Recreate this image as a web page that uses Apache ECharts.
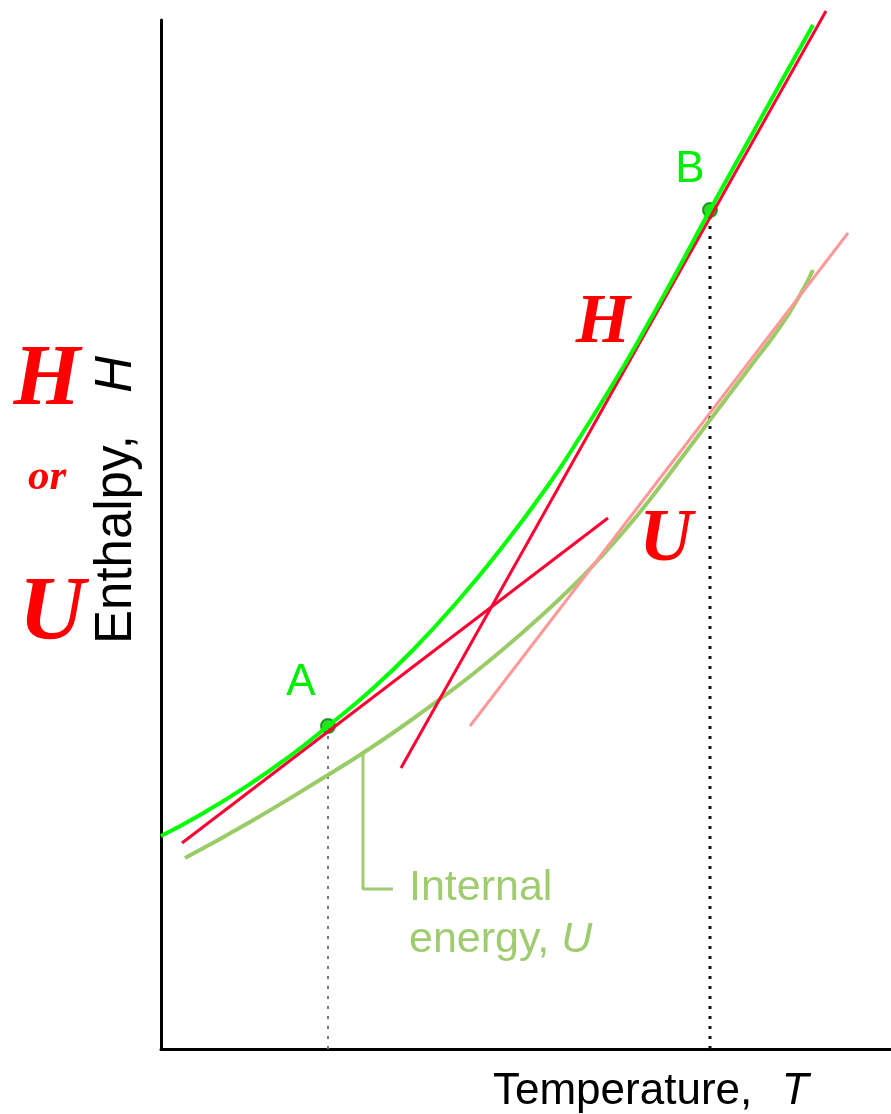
<!DOCTYPE html>
<html>
<head>
<meta charset="utf-8">
<script src="https://cdn.jsdelivr.net/npm/echarts@6/dist/echarts.min.js"></script>
<style>
  html, body { margin: 0; padding: 0; background: #fff; }
  #chart { width: 891px; height: 1114px; }
</style>
</head>
<body>
<div id="chart"></div>
<script>
// arbitrary units: temperature 0..730, enthalpy 0..1029
var enthalpyCurve = [
  [0, 213], [39, 234], [89, 265], [129, 293], [167, 323], [209, 358],
  [252, 399], [296, 447], [339, 499], [386, 562], [419, 612], [452, 665],
  [479, 711], [514, 774], [549, 839], [589, 911], [629, 983], [652, 1024]
];
var energyCurve = [
  [24, 191], [89, 227], [167, 274], [202, 296], [239, 321], [279, 350],
  [312, 375], [346, 403], [379, 432], [412, 463], [439, 491], [464, 519],
  [487, 547], [519, 589], [552, 633], [589, 682], [619, 722], [639, 754], [652, 779]
];
var tangentA = [[21, 206], [447, 531]];
var tangentB = [[240, 281], [665, 1038]];
var tangentU = [[309, 323], [687, 816]];
var leader = [[202, 296], [202, 160], [232, 160]];
var pointA = [167, 323];
var pointB = [549, 839];
var dropA = [[167, 0], [167, 323]];
var dropB = [[549, 0], [549, 839]];

var chart = echarts.init(document.getElementById('chart'));

function lineSeries(data, color, width, extra) {
  var s = {
    type: 'line',
    data: data,
    showSymbol: false,
    clip: false,
    silent: true,
    lineStyle: { color: color, width: width },
    animation: false
  };
  for (var k in extra) s[k] = extra[k];
  return s;
}

var sans = 'Liberation Sans';
var serif = 'Liberation Serif';

chart.setOption({
  animation: false,
  grid: { left: 161, right: 0, top: 20, bottom: 65 },
  xAxis: {
    type: 'value', min: 0, max: 730,
    axisLine: { show: true, lineStyle: { color: '#000', width: 3 } },
    axisTick: { show: false }, axisLabel: { show: false }, splitLine: { show: false }
  },
  yAxis: {
    type: 'value', min: 0, max: 1029,
    axisLine: { show: true, lineStyle: { color: '#000', width: 3 } },
    axisTick: { show: false }, axisLabel: { show: false }, splitLine: { show: false }
  },
  series: [
    lineSeries(dropA, '#777', 2, { lineStyle: { color: '#777', width: 2, type: [3, 7] } }),
    lineSeries(dropB, '#111', 3, { lineStyle: { color: '#111', width: 3, type: [3, 7] } }),
    lineSeries(leader, '#a0cc70', 3),
    lineSeries(energyCurve, '#99cc66', 4, { smooth: true }),
    lineSeries(tangentU, '#ff9999', 3),
    lineSeries(tangentA, '#ff0033', 3),
    lineSeries(tangentB, '#ff0033', 3),
    lineSeries(enthalpyCurve, '#00ff00', 4, { smooth: true }),
    {
      type: 'scatter',
      data: [pointA, pointB],
      symbolSize: 14,
      itemStyle: { color: '#00cc00', borderColor: '#008800', borderWidth: 2 },
      silent: true
    }
  ],
  graphic: [
    { type: 'text', x: 47, y: 382, style: { text: 'H', font: 'italic bold 86px "' + serif + '"', fill: '#ff0000', align: 'center', verticalAlign: 'middle' } },
    { type: 'text', x: 47, y: 478, style: { text: 'or', font: 'italic bold 43px "' + serif + '"', fill: '#ff0000', align: 'center', verticalAlign: 'middle' } },
    { type: 'text', x: 52, y: 615, style: { text: 'U', font: 'italic bold 92px "' + serif + '"', fill: '#ff0000', align: 'center', verticalAlign: 'middle' } },
    { type: 'text', x: 603, y: 324, style: { text: 'H', font: 'italic bold 70px "' + serif + '"', fill: '#ff0000', align: 'center', verticalAlign: 'middle' } },
    { type: 'text', x: 666, y: 541, style: { text: 'U', font: 'italic bold 74px "' + serif + '"', fill: '#ff0000', align: 'center', verticalAlign: 'middle' } },
    { type: 'text', x: 301, y: 683, style: { text: 'A', fontFamily: sans, fontSize: 44, fill: '#00ee00', align: 'center', verticalAlign: 'middle' } },
    { type: 'text', x: 690, y: 170, style: { text: 'B', fontFamily: sans, fontSize: 44, fill: '#00ee00', align: 'center', verticalAlign: 'middle' } },
    {
      type: 'text', x: 117, y: 644, rotation: Math.PI / 2,
      style: {
        text: 'Enthalpy,   {i|H}', fontFamily: sans, fontSize: 51, fill: '#000',
        align: 'left', verticalAlign: 'middle',
        rich: { i: { fontFamily: sans, fontSize: 51, fontStyle: 'italic', fill: '#000' } }
      }
    },
    {
      type: 'text', x: 493, y: 1092,
      style: {
        text: 'Temperature,  {i|T}', fontFamily: sans, fontSize: 44, fill: '#000',
        align: 'left', verticalAlign: 'middle',
        rich: { i: { fontFamily: sans, fontSize: 44, fontStyle: 'italic', fill: '#000', padding: [0, 0, 0, 5] } }
      }
    },
    {
      type: 'text', x: 409, y: 862,
      style: {
        text: 'Internal\nenergy, {i|U}', fontFamily: sans, fontSize: 43, lineHeight: 52, fill: '#a0cc70',
        align: 'left', verticalAlign: 'top',
        rich: { i: { fontFamily: sans, fontSize: 43, lineHeight: 52, fontStyle: 'italic', fill: '#a0cc70' } }
      }
    }
  ]
});
</script>
</body>
</html>
